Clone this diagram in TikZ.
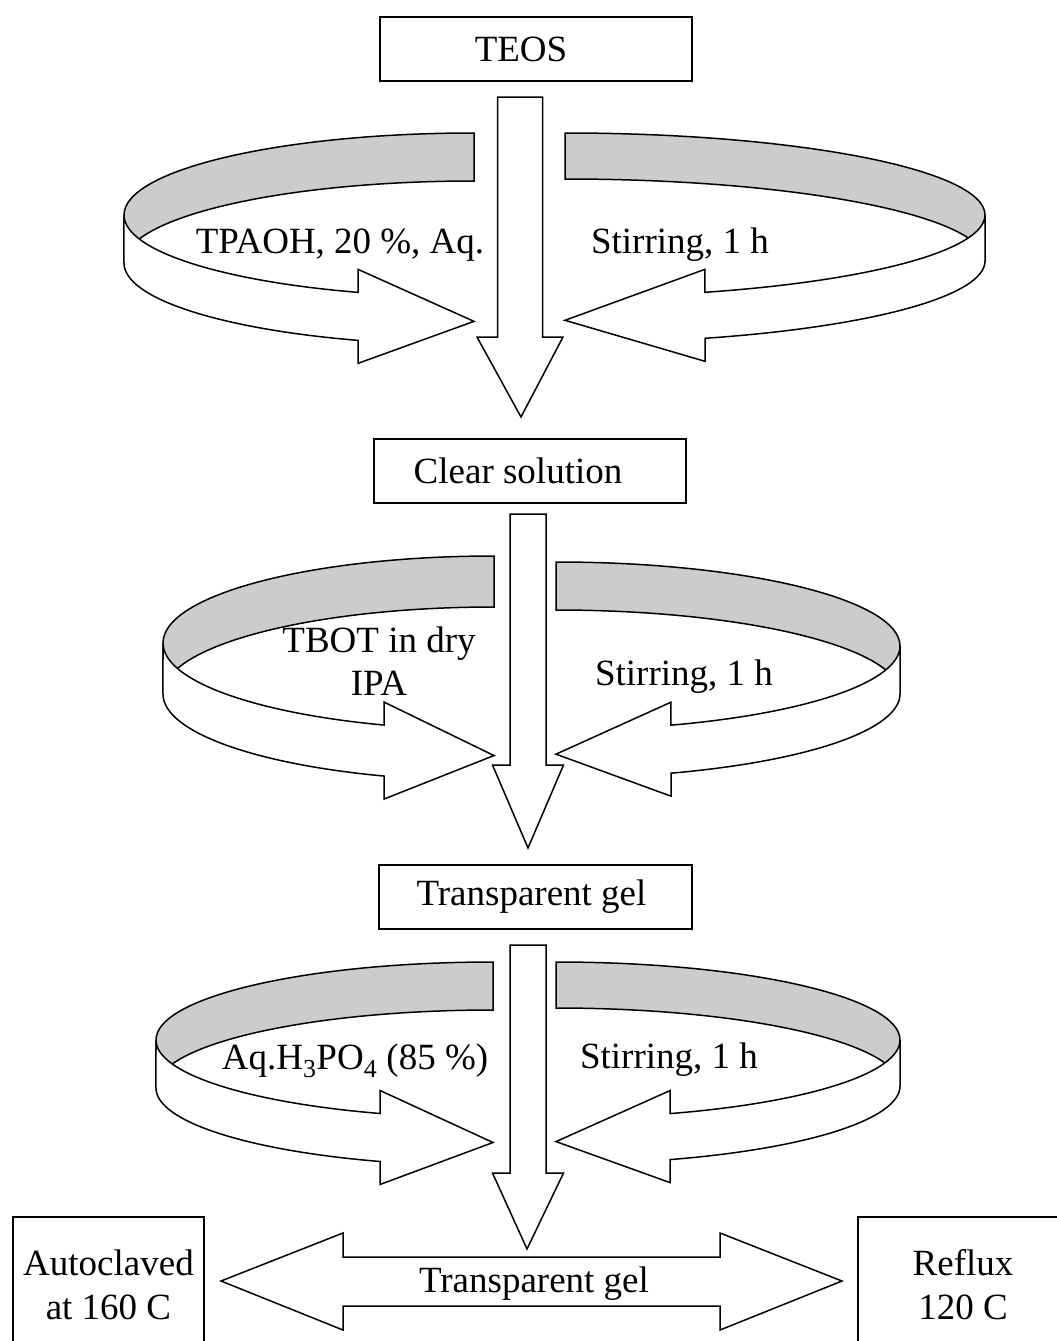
\documentclass[tikz,border=0pt]{standalone}
\usepackage{fontspec}
\setmainfont{Liberation Serif}
\usetikzlibrary{calc}
\tikzset{
    stagebox/.style={
        draw,
        rectangle,
        fill=white,
        line width=1.5pt,
        inner sep=0pt,
        align=center,
        font=\fontsize{37}{44}\selectfont
    },
    boxtext/.style={
        inner sep=0pt,
        font=\fontsize{37}{44}\selectfont
    },
    steplabel/.style={
        inner sep=0pt,
        anchor=base,
        align=center,
        font=\fontsize{37}{43}\selectfont
    },
    blockarrow/.style={
        draw,
        fill=white,
        line width=1.5pt,
        line join=miter
    },
    ribbonback/.style={
        draw,
        fill=black!20,
        line width=1.5pt
    },
    ribbonfront/.style={
        draw,
        fill=white,
        line width=1.5pt
    }
}
% curled ribbon arrow: #1 side (180 left, 0 right), #2 back x, #3 back top y,
% #4 x radius, #5 y radius, #6 ribbon height, #7 x of the head base
\newcommand{\curlarrow}[7]{%
    \pgfmathsetmacro\frontang{360-acos((#7-#2)/#4)}%
    \pgfmathsetmacro\sideang{#1==0 ? 360 : 180}%
    \pgfmathsetmacro\basey{-#3-#5+#5*sin(\frontang)}%
    \draw[ribbonback] (#2,-#3)
        arc[start angle=90, end angle=#1, x radius=#4, y radius=#5]
        -- ++(0,-#6)
        arc[start angle=#1, end angle=90, x radius=#4, y radius=#5] -- cycle;
    \draw[ribbonfront] ({#2+#4*cos(#1)},-#3-#5)
        arc[start angle=\sideang, end angle=\frontang, x radius=#4, y radius=#5]
        -- ++(0,23) -- (#2,{\basey-#6/2-5}) -- (#7,{\basey-#6-23}) -- ++(0,23)
        arc[start angle=\frontang, end angle=\sideang, x radius=#4, y radius=#5]
        -- cycle;
}
% block arrow pointing down: #1 centre x, #2 top y, #3 shaft end y, #4 tip y,
% #5 half shaft width, #6 half head width, #7 tip x
\newcommand{\downblock}[7]{%
    \draw[blockarrow] (#1-#5,-#2) -- (#1+#5,-#2) -- (#1+#5,-#3) -- (#1+#6,-#3)
        -- (#7,-#4) -- (#1-#6,-#3) -- (#1-#5,-#3) -- cycle;
}

\begin{document}
\begin{tikzpicture}[x=1pt, y=1pt]
    \useasboundingbox (0,0) rectangle (1057,-1341);
    \clip (0,0) rectangle (1057,-1341);

    % Stages of the synthesis
    \node[stagebox, minimum width=312pt, minimum height=64pt,
        label={[boxtext, xshift=-15pt]center:TEOS}] (teos) at (536,-49) {};
    \node[stagebox, minimum width=312pt, minimum height=64pt,
        label={[boxtext, xshift=-12pt]center:Clear solution}] (clearsol) at (530,-471) {};
    \node[stagebox, minimum width=313pt, minimum height=64pt,
        label={[boxtext, xshift=-4pt]center:Transparent gel}] (gelone) at (535.5,-897) {};
    \node[stagebox, minimum width=191pt, minimum height=136pt] (autoclave) at (108.5,-1285) {Autoclaved\\at 160 C};
    \node[stagebox, minimum width=210pt, minimum height=136pt] (reflux) at (963,-1285) {Reflux\\120 C};

    % Curled arrows for the additions
    \curlarrow{180}{474}{133}{350}{82}{48}{358}
    \curlarrow{0}{565}{133}{420}{82}{46}{705}
    \curlarrow{180}{494}{556}{331}{87}{51}{384}
    \curlarrow{0}{556}{562}{344}{84}{48}{671}
    \curlarrow{180}{493}{962}{337}{78}{48}{380}
    \curlarrow{0}{556}{962}{344}{78}{46}{670}

    % Arrows from one stage to the next
    \downblock{520}{97}{337}{417}{22.5}{43}{521}
    \downblock{528}{514}{765}{848}{18}{35.5}{528}
    \downblock{528}{945}{1173}{1249}{18}{35.5}{527}

    % Two-way arrow to the last treatments
    \draw[blockarrow] (221,-1281) -- (343,-1233) -- (343,-1257) -- (720,-1257)
        -- (720,-1233) -- (842,-1281) -- (720,-1330) -- (720,-1306)
        -- (343,-1306) -- (343,-1330) -- cycle;
    \node[steplabel] (gelfinal) at (534,-1292) {Transparent gel};

    % Conditions of each step
    \node[steplabel] (tpaoh) at (340,-253) {TPAOH, 20 \%, Aq.};
    \node[steplabel] (stirone) at (680,-253) {Stirring, 1 h};
    \node[steplabel, anchor=center] (tbot) at (379,-661) {TBOT in dry\\IPA};
    \node[steplabel] (stirtwo) at (684,-685) {Stirring, 1 h};
    \node[steplabel] (phosacid) at (355,-1069) {Aq.H\textsubscript{3}PO\textsubscript{4} (85 \%)};
    \node[steplabel] (stirthree) at (669,-1068) {Stirring, 1 h};
\end{tikzpicture}
\end{document}
